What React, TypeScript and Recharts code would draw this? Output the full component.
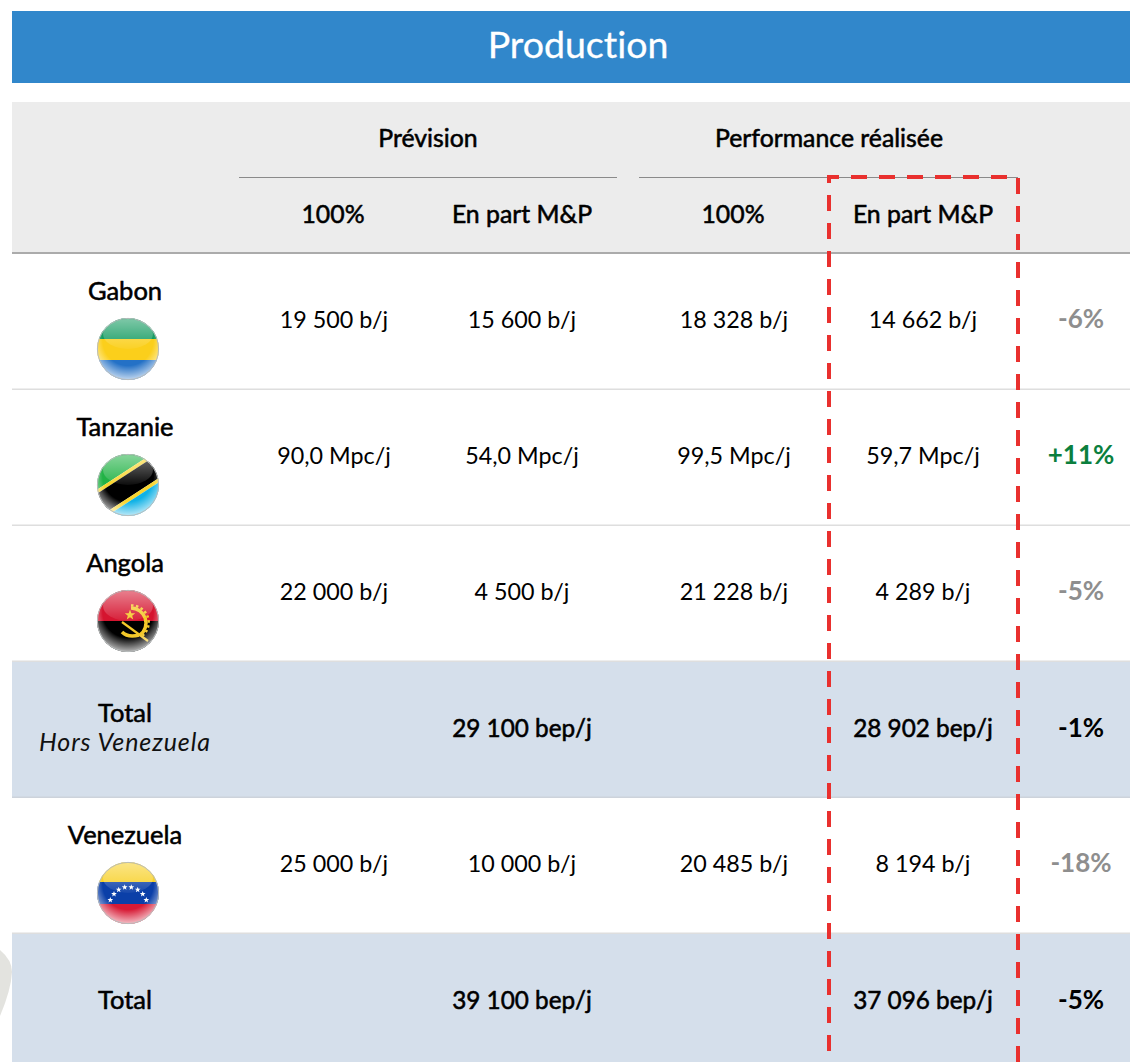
import { BarChart, Bar, XAxis, YAxis, ReferenceLine } from 'recharts'

const rowKeys = ['gabon', 'tanzanie', 'angola', 'totalHors', 'venezuela', 'total']
const countries = ['Gabon', 'Tanzanie', 'Angola', 'Total', 'Venezuela', 'Total']
const subtitles = ['', '', '', 'Hors Venezuela', '', '']
const forecast100 = ['19 500 b/j', '90,0 Mpc/j', '22 000 b/j', '', '25 000 b/j', '']
const forecastShare = ['15 600 b/j', '54,0 Mpc/j', '4 500 b/j', '29 100 bep/j', '10 000 b/j', '39 100 bep/j']
const actual100 = ['18 328 b/j', '99,5 Mpc/j', '21 228 b/j', '', '20 485 b/j', '']
const actualShare = ['14 662 b/j', '59,7 Mpc/j', '4 289 b/j', '28 902 bep/j', '8 194 b/j', '37 096 bep/j']
const variance = ['-6%', '+11%', '-5%', '-1%', '-18%', '-5%']
const totalRows = ['totalHors', 'total']

const rows = rowKeys.map((key, i) => ({
  key,
  name: countries[i],
  subtitle: subtitles[i],
  cells: [forecast100[i], forecastShare[i], actual100[i], actualShare[i]],
  variance: variance[i],
  isTotal: totalRows.includes(key),
  full: 1130,
}))

const FONT = 'Lato, "Noto Sans", sans-serif'
const COLUMNS = [334, 522, 734, 923]
const RED = '#E9302E'

// Lato has no medium weight, regular with a hairline stroke sits closest to the reference
const medium = { fontWeight: 400, stroke: '#000', strokeWidth: 0.55, strokeLinejoin: 'round' as const }

const varianceColor = (v: string) => (v.startsWith('+') ? '#0B7F3E' : '#8E8E8E')

const starPoints = (cx: number, cy: number, r: number) =>
  Array.from({ length: 10 }, (_, i) => {
    const a = (-90 + i * 36) * (Math.PI / 180)
    const d = i % 2 === 0 ? r : r * 0.42
    return `${cx + d * Math.cos(a)},${cy + d * Math.sin(a)}`
  }).join(' ')

const venezuelaStars = [
  [-17.7, 7], [-14, 1], [-9.3, -3.3], [-3.3, -5.7], [3.3, -5.7], [9.7, -3.3], [14.7, 1], [18.3, 7],
]

function FlagArt({ name }: { name: string }) {
  if (name === 'Gabon') {
    return (
      <>
        <rect x={-32} y={-32} width={64} height={22} fill="#129A5F" />
        <rect x={-32} y={-10} width={64} height={21} fill="#FBCF1B" />
        <rect x={-32} y={11} width={64} height={21} fill="#2471C6" />
      </>
    )
  }
  if (name === 'Tanzanie') {
    return (
      <g transform="rotate(-33)">
        <rect x={-45} y={-45} width={90} height={32} fill="#22B246" />
        <rect x={-45} y={-13} width={90} height={3.5} fill="#F9D52E" />
        <rect x={-45} y={-9.5} width={90} height={20.5} fill="#000" />
        <rect x={-45} y={11} width={90} height={3.5} fill="#F9D52E" />
        <rect x={-45} y={14.5} width={90} height={32} fill="#10B2E6" />
      </g>
    )
  }
  if (name === 'Angola') {
    return (
      <>
        <rect x={-32} y={-32} width={64} height={32} fill="#D5142F" />
        <rect x={-32} y={0} width={64} height={32} fill="#000" />
        <path d="M3 -13 A15 15 0 0 1 12 14" fill="none" stroke="#F4C92A" strokeWidth={3.5} />
        <path d="M3 -15.5 A17 17 0 0 1 14 15" fill="none" stroke="#F4C92A" strokeWidth={2.5} strokeDasharray="2.5 2.5" />
        <path d="M-6 11 Q0 17 11 14" fill="none" stroke="#F4C92A" strokeWidth={3.5} />
        <path d="M-6 1 L20 20" fill="none" stroke="#F4C92A" strokeWidth={2.2} />
        <polygon points={starPoints(2, -6, 5.5)} fill="#F4C92A" />
      </>
    )
  }
  return (
    <>
      <rect x={-32} y={-32} width={64} height={21} fill="#F7CF22" />
      <rect x={-32} y={-11} width={64} height={22} fill="#0B3FA8" />
      <rect x={-32} y={11} width={64} height={21} fill="#D71A35" />
      {venezuelaStars.map(([x, y], i) => (
        <polygon key={i} points={starPoints(x, y, 3)} fill="#fff" />
      ))}
    </>
  )
}

function Flag({ name, cx, cy }: { name: string; cx: number; cy: number }) {
  return (
    <g transform={`translate(${cx} ${cy})`}>
      <g clipPath="url(#flagClip)">
        <FlagArt name={name} />
        <circle r={31} fill="url(#flagGlow)" />
        <ellipse cx={0} cy={-15} rx={25} ry={15} fill="url(#flagGloss)" />
      </g>
      <circle r={30.6} fill="none" stroke="#B9BDBD" strokeWidth={1} />
    </g>
  )
}

function TableRow(props: any) {
  const { x, y, width, height, payload } = props
  const valueY = y + (payload.isTotal ? 75 : 74)
  const cellStyle = payload.isTotal ? medium : { fontWeight: 400 }
  return (
    <g fontFamily={FONT}>
      <rect x={x} y={y} width={width} height={height} fill={payload.isTotal ? '#D5DFEB' : '#fff'} />
      <rect x={x} y={y + height - 1.5} width={width} height={1.5} fill={payload.isTotal ? '#CDD3DB' : '#DEDEDE'} />
      <text
        x={125}
        y={payload.isTotal ? (payload.subtitle ? y + 60 : valueY) : y + 46}
        textAnchor="middle"
        fontSize={25.5}
        fill="#000"
        {...medium}
      >
        {payload.name}
      </text>
      {payload.subtitle && (
        <text x={125} y={y + 89} textAnchor="middle" fontSize={25} letterSpacing={0.9} fontStyle="italic" fill="#111">
          {payload.subtitle}
        </text>
      )}
      {!payload.isTotal && <Flag name={payload.name} cx={128} cy={y + 95} />}
      {payload.cells.map((cell: string, i: number) => (
        <text key={i} x={COLUMNS[i]} y={valueY} textAnchor="middle" fontSize={payload.isTotal ? 24.3 : 23.3} fill="#000" {...cellStyle}>
          {cell}
        </text>
      ))}
      <text
        x={1081}
        y={valueY}
        textAnchor="middle"
        fontSize={26}
        fontWeight={700}
        fill={payload.isTotal ? '#000' : varianceColor(payload.variance)}
      >
        {payload.variance}
      </text>
    </g>
  )
}

export default function App() {
  return (
    <div style={{ position: 'absolute', left: 0, top: 0, width: 1130, height: 1062, overflow: 'hidden', background: '#fff', fontVariantLigatures: 'none' }}>
      <BarChart
        width={1130}
        height={1070}
        data={rows}
        layout="vertical"
        barCategoryGap={0}
        margin={{ top: 254, right: 0, bottom: 0, left: 12 }}
      >
        <defs>
          <clipPath id="flagClip">
            <circle r={31} />
          </clipPath>
          <radialGradient id="flagGlow" cx="0.5" cy="0.36" r="0.68">
            <stop offset="0.6" stopColor="#fff" stopOpacity={0} />
            <stop offset="1" stopColor="#fff" stopOpacity={0.85} />
          </radialGradient>
          <linearGradient id="flagGloss" x1="0" y1="0" x2="0" y2="1">
            <stop offset="0" stopColor="#fff" stopOpacity={0.45} />
            <stop offset="1" stopColor="#fff" stopOpacity={0.05} />
          </linearGradient>
        </defs>
        <XAxis type="number" domain={[12, 1130]} hide />
        <YAxis type="category" dataKey="key" hide />

        <path d="M0 950 Q12 960 12 972 Q11 990 0 1016 Z" fill="#E3E3DF" />
        <g fontFamily={FONT} textAnchor="middle" fill="#000" fontSize={24.8}>
          <rect x={12} y={11} width={1118} height={72} fill="#3187CB" />
          <text x={578} y={57.5} fontSize={37.5} fill="#fff" stroke="#fff" strokeWidth={0.3}>Production</text>
          <rect x={12} y={102} width={1118} height={151} fill="#ECECEC" />
          <rect x={12} y={252} width={1118} height={2} fill="#ABABAB" />
          <rect x={239} y={177} width={378} height={1} fill="#8A8A8A" />
          <rect x={639} y={177} width={379} height={1} fill="#8A8A8A" />
          <text x={428} y={147} {...medium}>Prévision</text>
          <text x={829} y={147} {...medium}>Performance réalisée</text>
          <text x={333} y={223} {...medium}>100%</text>
          <text x={522} y={223} {...medium}>En part M&amp;P</text>
          <text x={733} y={223} {...medium}>100%</text>
          <text x={923} y={223} {...medium}>En part M&amp;P</text>
        </g>
        <g fill="none" stroke={RED} strokeWidth={4}>
          <path d="M827 177 H1016" strokeDasharray="16 12" strokeDashoffset={-24} />
          <path d="M829 177 V255" strokeDasharray="16 12" strokeDashoffset={10} />
          <path d="M1018 178 V255" strokeDasharray="16 12" />
        </g>

        <Bar dataKey="full" shape={TableRow} isAnimationActive={false} />

        {/* reference lines are drawn from the bottom of the plot upward, the offsets line the dashes up */}
        <ReferenceLine x={829} stroke={RED} strokeWidth={4} strokeDasharray="16 12" strokeDashoffset={9} />
        <ReferenceLine x={1018} stroke={RED} strokeWidth={4} strokeDasharray="16 12" strokeDashoffset={20} />
      </BarChart>
    </div>
  )
}
